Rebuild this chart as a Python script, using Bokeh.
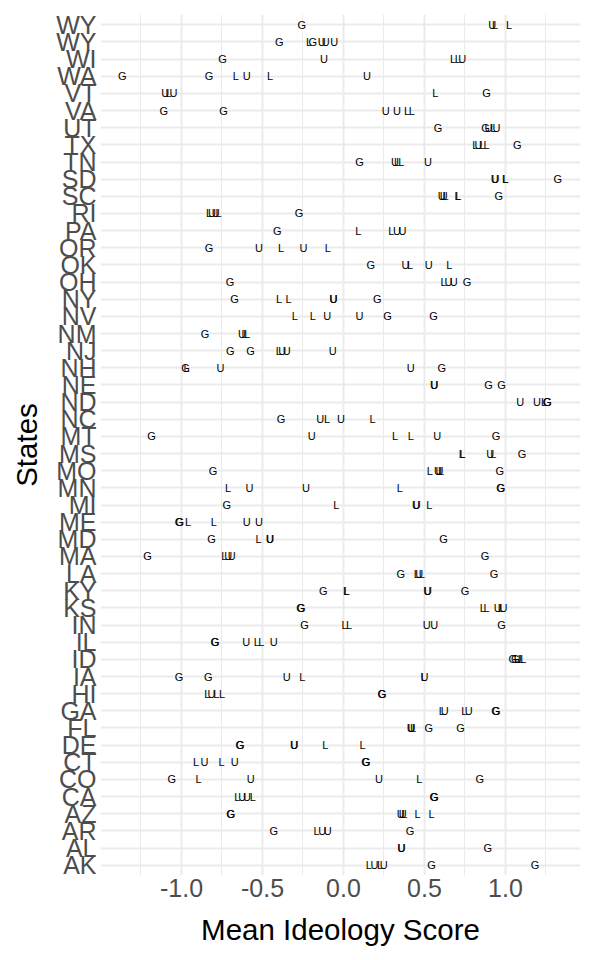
from bokeh.plotting import figure
from bokeh.models import Range1d, FixedTicker, ColumnDataSource
from bokeh.embed import file_html
from bokeh.resources import INLINE
from bokeh.core.properties import value

# States from bottom (AK) to top
states = ["AK", "AL", "AR", "AZ", "CA", "CO", "CT", "DE", "FL", "GA",
          "HI", "IA", "ID", "IL", "IN", "KS", "KY", "LA", "MA", "MD",
          "ME", "MI", "MN", "MO", "MS", "MT", "NC", "ND", "NE", "NH",
          "NJ", "NM", "NV", "NY", "OH", "OK", "OR", "PA", "RI", "SC",
          "SD", "TN", "TX", "UT", "VA", "VT", "WA", "WI", "WY", "WY"]

# "G" labels per state
g_values = [
    [0.544, 1.183], [0.890], [-0.431, 0.411], [-0.697, -0.695], [0.558, 0.562],
    [-1.060, 0.842], [0.136, 0.140], [-0.641, -0.637], [0.526, 0.722], [0.939, 0.943],
    [0.236, 0.240], [-1.015, -0.835], [1.045, 1.060], [-0.795, -0.791], [-0.240, 0.976],
    [-0.265, -0.261], [-0.125, 0.750], [0.353, 0.929], [-1.210, 0.874], [-0.815, 0.618],
    [-1.015, -1.011], [-0.720], [0.969, 0.973], [-0.805, 0.964], [1.102],
    [-1.185, 0.941], [-0.385], [1.256, 1.260], [0.895, 0.976], [-0.975, 0.607],
    [-0.699, -0.574], [-0.855], [0.272, 0.556], [-0.673, 0.208], [-0.700, 0.763],
    [0.168], [-0.830], [-0.408], [-0.274], [0.959],
    [1.322], [0.099], [1.072], [0.583, 0.876], [-1.110, -0.740],
    [0.883], [-1.365, -0.830], [-0.746], [-0.397, -0.189], [-0.258],
]

# "L" labels per state
l_values = [
    [0.157, 0.226], [], [-0.166], [0.376, 0.457, 0.544], [-0.655, -0.560],
    [-0.895, 0.468], [-0.910, -0.752], [-0.113, 0.118], [0.429], [0.607, 0.745],
    [-0.840, -0.785, -0.750], [-0.254, 0.496], [1.095, 1.110], [-0.535, -0.507], [0.007, 0.035],
    [0.860, 0.883, 0.971], [0.016, 0.020], [0.452, 0.484], [-0.735], [-0.524],
    [-0.960, -0.800], [-0.044, 0.530], [-0.712, 0.348], [0.533, 0.602], [0.731, 0.735, 0.925],
    [0.318, 0.415], [-0.101, 0.180], [1.238], [], [-0.968],
    [-0.399], [-0.611, -0.593], [-0.300, -0.189], [-0.397, -0.339], [0.618],
    [0.411, 0.653], [-0.385, -0.097], [0.092, 0.295], [-0.830, -0.772], [0.630, 0.704, 0.708],
    [0.997, 1.001], [0.330, 0.357], [0.814, 0.856, 0.883], [0.925], [0.392, 0.422],
    [-1.080, 0.567], [-0.665, -0.454], [0.676, 0.706], [-0.212], [0.936, 1.022],
]

# "U" labels per state
u_values = [
    [0.191, 0.249], [0.357, 0.360], [-0.131, -0.097], [0.353, 0.365], [-0.625, -0.596],
    [-0.572, 0.219], [-0.858, -0.672], [-0.306, -0.302], [0.415, 0.419], [0.625, 0.773],
    [-0.815], [-0.351, 0.500], [1.075], [-0.600, -0.431], [0.514, 0.560],
    [0.952, 0.987], [0.517, 0.521], [0.468], [-0.712, -0.690], [-0.456, -0.452],
    [-0.597, -0.522], [0.448, 0.452], [-0.580, -0.231], [0.583, 0.592], [0.906],
    [-0.196, 0.579], [-0.143, -0.016], [1.091, 1.195], [0.558, 0.562], [-0.760, 0.415],
    [-0.378, -0.351, -0.067], [-0.627], [-0.101, 0.099], [-0.064, -0.060], [0.648, 0.680],
    [0.383, 0.526], [-0.522, -0.247], [0.330, 0.364], [-0.812, -0.789], [0.607, 0.618],
    [0.934, 0.938], [0.318, 0.521], [0.833], [0.895, 0.945], [0.261, 0.330],
    [-1.100, -1.050], [-0.597, 0.145], [-0.120, 0.733], [-0.135, -0.110, -0.058], [0.918],
]

x_ticks = [-1.0, -0.5, 0.0, 0.5, 1.0]
x_tick_labels = ["-1.0", "-0.5", "0.0", "0.5", "1.0"]
x_minor = [-1.25, -0.75, -0.25, 0.25, 0.75, 1.25]

xs, ys, ts = [], [], []
for i in range(len(states)):
    for lab, series in (("G", g_values), ("L", l_values), ("U", u_values)):
        for v in series[i]:
            xs.append(v)
            ys.append(i + 1)
            ts.append(lab)
src = ColumnDataSource(dict(x=xs, y=ys, t=ts))

p = figure(width=595, height=960, output_backend="svg", toolbar_location=None,
           x_range=Range1d(-1.50, 1.463), y_range=Range1d(0.4, len(states) + 0.6),
           min_border_left=100, min_border_right=15, min_border_top=14, min_border_bottom=85)
p.outline_line_color = None
p.background_fill_color = "white"
p.border_fill_color = "white"

p.text(x="x", y="y", text="t", source=src, text_align="center", text_baseline="middle",
       text_font=value("Liberation Sans"), text_font_size="11px", text_color="black")

p.xaxis.ticker = FixedTicker(ticks=x_ticks, minor_ticks=x_minor)
p.xaxis.major_label_overrides = {t: l for t, l in zip(x_ticks, x_tick_labels)}
p.yaxis.ticker = FixedTicker(ticks=list(range(1, len(states) + 1)))
p.yaxis.major_label_overrides = {i + 1: s for i, s in enumerate(states)}

for ax in (p.xaxis, p.yaxis):
    ax.axis_line_color = None
    ax.major_tick_line_color = None
    ax.minor_tick_line_color = None
    ax.major_tick_out = 0
    ax.major_tick_in = 0
    ax.minor_tick_out = 0
    ax.minor_tick_in = 0
    ax.major_label_text_font = "Liberation Sans"
    ax.major_label_text_font_size = "25px"
    ax.major_label_text_color = "#4D4D4D"
    ax.axis_label_text_font = "Liberation Sans"
    ax.axis_label_text_font_size = "29.5px"
    ax.axis_label_text_font_style = "normal"
    ax.axis_label_text_color = "black"

p.xaxis.axis_label = "Mean Ideology Score"
p.yaxis.axis_label = "States"
p.xaxis.major_label_standoff = 3
p.yaxis.major_label_standoff = 4
p.xaxis.axis_label_standoff = 13
p.yaxis.axis_label_standoff = 10

p.xgrid.grid_line_color = "#EBEBEB"
p.xgrid.grid_line_width = 2
p.xgrid.minor_grid_line_color = "#EBEBEB"
p.xgrid.minor_grid_line_width = 1
p.ygrid.grid_line_color = "#EBEBEB"
p.ygrid.grid_line_width = 2

open("out.html", "w").write(file_html(p, INLINE))
